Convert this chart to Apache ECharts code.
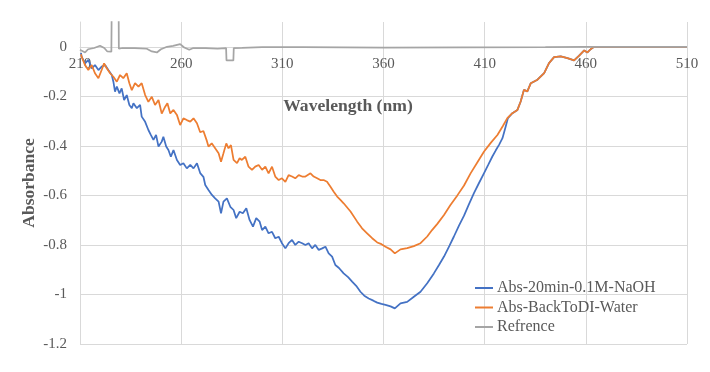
<!DOCTYPE html>
<html><head><meta charset="utf-8">
<script src="https://cdn.jsdelivr.net/npm/echarts@6/dist/echarts.min.js"></script>
<style>html,body{margin:0;padding:0;background:#fff}#c{width:710px;height:372px}</style>
</head><body><div id="c"></div>
<script>
const seriesNames = ['Abs-20min-0.1M-NaOH', 'Abs-BackToDI-Water', 'Refrence'];
const xTicks = [210, 260, 310, 360, 410, 460, 510];
const yMin = -1.2, yMax = 0.1, yStep = 0.2;

const blueWl = [210.5,210.8,212.5,214.1,215.8,217.4,219.1,220.7,222.4,224.0,225.7,226.5,227.3,228.2,229.5,230.6,231.8,233.1,234.4,235.6,236.4,238.1,239.7,240.5,242.2,243.8,245.0,246.3,247.6,248.8,250.4,251.2,252.6,253.7,254.9,256.2,257.9,259.5,261.1,262.8,264.5,266.1,267.8,269.4,271.0,271.9,273.5,275.2,276.8,278.5,279.7,280.9,282.6,284.3,285.9,287.2,288.9,290.5,292.2,293.8,295.5,297.1,298.8,300.0,301.6,303.2,304.9,306.5,308.2,309.8,311.5,313.1,314.8,316.4,318.1,319.8,321.4,323.0,324.7,326.3,328.0,329.7,331.3,332.9,334.6,336.2,338.0,340.3,342.5,344.5,346.5,348.6,350.5,352.7,355.0,356.9,359.0,361.0,363.5,365.6,368.4,371.7,375.0,378.3,381.6,384.9,387.5,389.9,392.5,394.8,397.3,399.8,402.2,404.7,407.2,409.7,411.8,413.8,415.5,417.1,418.8,420.4,421.5,423.7,426.2,427.8,429.4,431.1,432.8,436.1,439.4,441.8,444.3,447.6,450.9,454.2,456.7,459.2,460.8,462.5,464.1,510];
const blueAbs = [-0.025,-0.040,-0.067,-0.053,-0.087,-0.074,-0.094,-0.080,-0.074,-0.094,-0.114,-0.141,-0.181,-0.161,-0.188,-0.168,-0.215,-0.195,-0.235,-0.248,-0.228,-0.248,-0.235,-0.282,-0.303,-0.336,-0.356,-0.376,-0.356,-0.403,-0.383,-0.363,-0.403,-0.417,-0.444,-0.417,-0.457,-0.477,-0.470,-0.491,-0.477,-0.491,-0.470,-0.510,-0.525,-0.558,-0.578,-0.598,-0.612,-0.625,-0.672,-0.625,-0.612,-0.646,-0.659,-0.692,-0.666,-0.672,-0.652,-0.699,-0.726,-0.692,-0.706,-0.740,-0.726,-0.753,-0.747,-0.773,-0.767,-0.793,-0.814,-0.793,-0.780,-0.800,-0.787,-0.793,-0.800,-0.793,-0.814,-0.800,-0.820,-0.814,-0.807,-0.834,-0.847,-0.881,-0.893,-0.915,-0.930,-0.948,-0.965,-0.989,-1.005,-1.016,-1.025,-1.033,-1.038,-1.042,-1.048,-1.056,-1.036,-1.030,-1.009,-0.989,-0.955,-0.915,-0.880,-0.847,-0.805,-0.766,-0.722,-0.682,-0.636,-0.591,-0.550,-0.510,-0.476,-0.443,-0.418,-0.396,-0.369,-0.322,-0.288,-0.268,-0.255,-0.221,-0.174,-0.180,-0.147,-0.133,-0.106,-0.066,-0.042,-0.039,-0.046,-0.055,-0.036,-0.015,-0.023,-0.009,0,0];

const orangeWl = [210.5,210.8,212.5,214.1,215.8,217.4,219.1,220.7,221.9,223.2,224.9,226.5,228.2,229.8,231.4,233.1,234.4,235.6,237.2,238.9,240.5,242.2,243.8,245.5,247.1,248.8,250.4,252.1,253.2,254.6,256.2,257.9,259.5,261.1,262.8,264.5,266.1,267.8,269.4,271.0,272.7,273.5,275.1,276.8,278.5,279.7,280.9,282.3,283.4,284.6,285.9,287.6,288.9,290.0,291.7,293.3,295.0,296.6,298.3,300.0,301.6,303.2,304.9,306.5,308.2,309.8,311.5,313.1,314.8,316.4,318.1,319.8,321.4,323.9,325.5,327.2,328.8,330.4,332.1,333.8,335.4,337.1,338.7,340.3,343.7,347.0,349.4,351.9,354.4,356.9,359.0,361.0,363.5,365.6,368.4,371.7,375.0,378.3,381.6,384.0,386.6,389.9,393.0,396.5,399.8,403.1,406.5,409.7,413.0,416.3,419.0,421.2,423.7,426.2,427.8,429.4,431.1,432.8,436.1,439.4,441.8,444.3,447.6,450.9,454.2,456.7,459.2,460.8,462.5,464.1,510];
const orangeAbs = [-0.030,-0.040,-0.074,-0.094,-0.074,-0.107,-0.127,-0.094,-0.067,-0.087,-0.107,-0.121,-0.141,-0.114,-0.127,-0.107,-0.147,-0.175,-0.147,-0.161,-0.147,-0.195,-0.222,-0.202,-0.235,-0.215,-0.270,-0.242,-0.228,-0.269,-0.255,-0.275,-0.316,-0.289,-0.296,-0.302,-0.289,-0.309,-0.345,-0.340,-0.380,-0.403,-0.390,-0.410,-0.430,-0.464,-0.430,-0.390,-0.410,-0.397,-0.457,-0.470,-0.450,-0.457,-0.444,-0.484,-0.497,-0.484,-0.477,-0.497,-0.484,-0.511,-0.484,-0.524,-0.538,-0.531,-0.545,-0.518,-0.524,-0.531,-0.518,-0.524,-0.524,-0.511,-0.524,-0.531,-0.538,-0.538,-0.545,-0.565,-0.585,-0.605,-0.618,-0.632,-0.665,-0.706,-0.733,-0.753,-0.773,-0.790,-0.797,-0.807,-0.818,-0.834,-0.818,-0.813,-0.805,-0.793,-0.766,-0.740,-0.715,-0.679,-0.640,-0.600,-0.560,-0.510,-0.465,-0.423,-0.388,-0.356,-0.320,-0.288,-0.268,-0.255,-0.221,-0.174,-0.180,-0.147,-0.133,-0.106,-0.066,-0.042,-0.039,-0.046,-0.055,-0.036,-0.015,-0.023,-0.009,0,0];

const refWl = [210.0,212.5,214.0,217.0,219.9,222.0,223.5,225.5,225.8,229.0,229.2,231.0,237.0,243.0,245.5,248.0,250.0,253.0,256.0,259.5,261.5,264.0,266.0,272.0,278.0,282.2,282.4,285.8,286.0,290.0,300.0,320.0,360.0,400.0,440.0,460.0,510.0];
const refAbs = [-0.012,-0.023,-0.010,-0.005,0.004,-0.005,-0.019,-0.020,0.300,0.300,-0.008,-0.005,-0.005,-0.008,-0.019,-0.023,-0.010,0,0.004,0.011,-0.003,-0.012,-0.005,-0.005,-0.008,-0.005,-0.055,-0.055,-0.005,-0.004,-0.001,-0.001,-0.003,-0.002,-0.001,0,0];

const pairs = (xs, ys) => xs.map((x, i) => [x, ys[i]]);
const txt = '#595959';
const font = 'Liberation Serif';
const grid = {left: 80, right: 23, top: 22, bottom: 28};
const plotH = 372 - grid.top - grid.bottom;
const zeroOffset = plotH * (0 - yMin) / (yMax - yMin);
const gridColors = [];
for (let v = yMin; v <= yMax + 1e-9; v += yStep) gridColors.push('#d9d9d9');
if (Math.abs((yMax - yMin) / yStep - Math.round((yMax - yMin) / yStep)) > 1e-6) gridColors.push('rgba(0,0,0,0)');

const chart = echarts.init(document.getElementById('c'), null, {renderer: 'canvas'});
chart.setOption({
  animation: false,
  backgroundColor: '#fff',
  grid: Object.assign({containLabel: false, outerBoundsMode: 'none'}, grid),
  legend: {
    orient: 'vertical', left: 475, top: 280, padding: 0, itemWidth: 18, itemHeight: 2, itemGap: 3.5,
    icon: 'rect',
    textStyle: {color: txt, fontFamily: font, fontSize: 16, lineHeight: 16, padding: [0, 0, 0, -1]},
    data: seriesNames
  },
  xAxis: {
    type: 'value', min: xTicks[0], max: xTicks[xTicks.length - 1], interval: 50,
    position: 'bottom', offset: -zeroOffset,
    axisLine: {onZero: false, lineStyle: {color: '#d9d9d9'}},
    axisTick: {show: false},
    axisLabel: {color: txt, fontFamily: font, fontSize: 15, margin: 10},
    splitLine: {show: true, lineStyle: {color: '#d9d9d9', width: 1}}
  },
  yAxis: {
    type: 'value', min: yMin, max: yMax, interval: yStep,
    name: 'Absorbance', nameLocation: 'middle', nameGap: 42, nameMoveOverlap: false,
    nameTextStyle: {color: txt, fontFamily: font, fontSize: 17.5, fontWeight: 'bold'},
    axisLine: {show: true, onZero: false, lineStyle: {color: '#d9d9d9'}},
    axisTick: {show: false},
    axisLabel: {color: txt, fontFamily: font, fontSize: 15, margin: 13,
      formatter: v => (v > 0.05 ? '' : String(Math.round(v * 10) / 10))},
    splitLine: {show: true, lineStyle: {color: gridColors, width: 1}}
  },
  graphic: [{
    type: 'text', x: 348, y: 106,
    style: {text: 'Wavelength (nm)', fill: txt, font: 'bold 17.6px "Liberation Serif"', align: 'center', verticalAlign: 'middle', textAlign: 'center', textVerticalAlign: 'middle'}
  }],
  series: [
    {name: seriesNames[0], type: 'line', data: pairs(blueWl, blueAbs), showSymbol: false, symbol: 'none',
     lineStyle: {color: '#4472C4', width: 1.75}, itemStyle: {color: '#4472C4'}, z: 2},
    {name: seriesNames[1], type: 'line', data: pairs(orangeWl, orangeAbs), showSymbol: false, symbol: 'none',
     lineStyle: {color: '#ED7D31', width: 1.75}, itemStyle: {color: '#ED7D31'}, z: 3},
    {name: seriesNames[2], type: 'line', data: pairs(refWl, refAbs), showSymbol: false, symbol: 'none',
     lineStyle: {color: '#A5A5A5', width: 1.75}, itemStyle: {color: '#A5A5A5'}, z: 4}
  ]
});
</script></body></html>
